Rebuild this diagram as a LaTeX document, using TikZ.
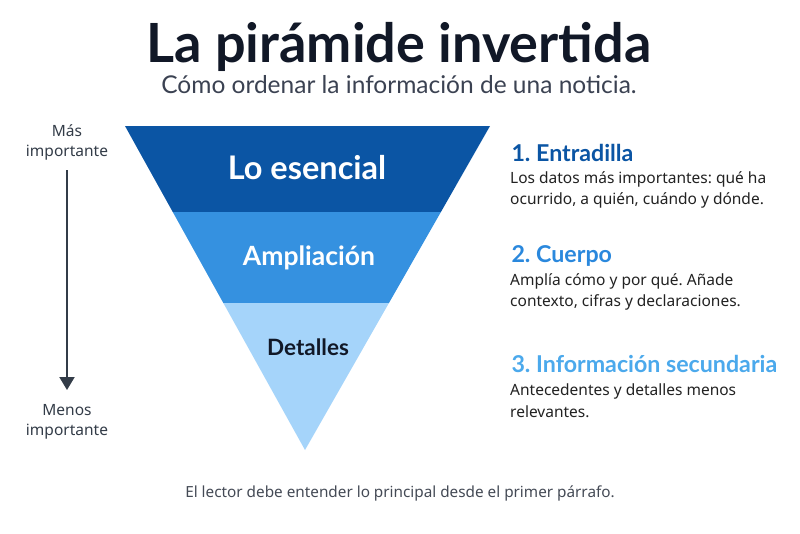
\documentclass[tikz,border=0pt]{standalone}
\usepackage{fontspec}
\setmainfont{Lato}
\newfontfamily\bodyfont{Noto Sans}
\usetikzlibrary{arrows.meta}
\definecolor{dkblue}{HTML}{0B55A4}
\definecolor{mdblue}{HTML}{3591E0}
\definecolor{ltblue}{HTML}{A5D4FA}
\definecolor{hblue2}{HTML}{2A88DD}
\definecolor{hblue3}{HTML}{4BA9EC}
\definecolor{titlec}{HTML}{111827}
\definecolor{subc}{HTML}{3B4252}
\definecolor{bodyc}{HTML}{222222}
\definecolor{arrowc}{HTML}{333C48}
\definecolor{notec}{HTML}{444A55}
\tikzset{
  bandtext/.style={font=\fontsize{#1}{#1}\selectfont\bfseries, anchor=center},
  sidelbl/.style={font=\bodyfont\fontsize{15.5}{20}\selectfont, text=arrowc, align=center, anchor=center},
  head/.style={font=\fontsize{23.2}{26}\selectfont\bfseries, anchor=base west},
  body/.style={font=\bodyfont\fontsize{15.5}{21.5}\selectfont, text=bodyc, align=left, anchor=north west, inner sep=0pt}
}
\begin{document}
\frenchspacing
\begin{tikzpicture}[x=1pt,y=-1pt]
\useasboundingbox (0,0) rectangle (800,533);
\fill[white] (0,0) rectangle (800,533);
% title
\node[font=\fontsize{54}{54}\selectfont\bfseries, text=titlec, anchor=base] (title) at (399,62) {La pirámide invertida};
\node[font=\fontsize{24.5}{24.5}\selectfont, text=subc, anchor=base] (sub) at (399,93) {Cómo ordenar la información de una noticia.};
% pyramid
\coordinate (AP) at (305,450);
\fill[dkblue] (125,126) -- (490,126) -- ({490-185*(86/324)},212) -- ({125+180*(86/324)},212) -- cycle;
\fill[mdblue] ({125+180*(86/324)},212) -- ({490-185*(86/324)},212) -- ({490-185*(177/324)},303) -- ({125+180*(177/324)},303) -- cycle;
\fill[ltblue] ({125+180*(177/324)},303) -- ({490-185*(177/324)},303) -- (AP) -- cycle;
\node[bandtext=32.5, text=white] (b1) at (307,168) {Lo esencial};
\node[bandtext=26.5, text=white] (b2) at (309,258) {Ampliación};
\node[bandtext=22.5, text=titlec] (b3) at (308,347) {Detalles};
% left arrow
\node[sidelbl] (mas) at (67,142) {Más\\importante};
\node[sidelbl] (menos) at (67,422) {Menos\\importante};
\coordinate (aS) at (67,170);
\coordinate (aE) at (67,390);
\draw[arrowc, line width=2pt, -{Triangle[width=15pt,length=13pt]}] (aS) -- (aE);
% right column
\node[head, text=dkblue] (h1) at (508,161) {1. Entradilla};
\node[body] (t1) at (510,171) {Los datos más importantes: qué ha\\ocurrido, a quién, cuándo y dónde.};
\node[head, text=hblue2] (h2) at (508,262) {2. Cuerpo};
\node[body] (t2) at (510,273) {Amplía cómo y por qué. Añade\\contexto, cifras y declaraciones.};
\node[head, text=hblue3] (h3) at (508,372) {3. Información secundaria};
\node[body] (t3) at (510,384) {Antecedentes y detalles menos\\relevantes.};
% note
\node[font=\bodyfont\fontsize{15.3}{15.3}\selectfont, text=notec, anchor=base] (note) at (400,497) {El lector debe entender lo principal desde el primer párrafo.};
\end{tikzpicture}
\end{document}
